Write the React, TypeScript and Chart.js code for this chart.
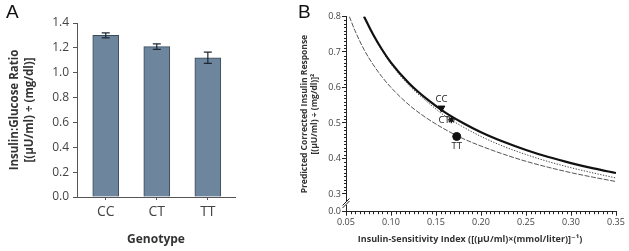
import React, { useEffect, useRef } from 'react';
import { Chart, registerables } from 'chart.js';

Chart.register(...registerables);

// ---------- Panel A data ----------
const genotypes = ['CC', 'CT', 'TT'];
const ratioMeans = [1.30, 1.21, 1.12];
const ratioErrors = [0.02, 0.022, 0.045];
const ratioTicks = [0, 0.2, 0.4, 0.6, 0.8, 1.0, 1.2, 1.4];

// ---------- Panel B data ----------
const ccCurveX = [0.07, 0.08, 0.09, 0.10, 0.12, 0.14, 0.16, 0.18, 0.20, 0.225, 0.25, 0.275, 0.30, 0.325, 0.35];
const ccCurveY = [0.80, 0.750, 0.707, 0.670, 0.612, 0.567, 0.530, 0.500, 0.474, 0.447, 0.424, 0.404, 0.387, 0.372, 0.359];
const ctCurveX = [0.07, 0.08, 0.09, 0.10, 0.12, 0.14, 0.16, 0.18, 0.20, 0.225, 0.25, 0.275, 0.30, 0.325, 0.35];
const ctCurveY = [0.80, 0.748, 0.704, 0.666, 0.606, 0.560, 0.520, 0.489, 0.462, 0.434, 0.411, 0.391, 0.374, 0.359, 0.345];
const ttCurveX = [0.0537, 0.06, 0.07, 0.08, 0.09, 0.10, 0.12, 0.14, 0.16, 0.18, 0.20, 0.225, 0.25, 0.275, 0.30, 0.325, 0.35];
const ttCurveY = [0.80, 0.760, 0.707, 0.665, 0.630, 0.600, 0.551, 0.513, 0.482, 0.456, 0.435, 0.412, 0.392, 0.375, 0.360, 0.347, 0.335];
const markerLabels = ['CC', 'CT', 'TT'];
const markerX = [0.156, 0.167, 0.173];
const markerY = [0.542, 0.509, 0.462];
const siTicks = [0.05, 0.10, 0.15, 0.20, 0.25, 0.30, 0.35];
const responseTicks = [0.25, 0.3, 0.4, 0.5, 0.6, 0.7, 0.8];
const responseTickLabels = ['0.0', '0.3', '0.4', '0.5', '0.6', '0.7', '0.8'];

const FAMILY = '"Open Sans", "DejaVu Sans", sans-serif';

const zip = (xs: number[], ys: number[]) => xs.map((x, i) => ({ x, y: ys[i] }));

function BarPanel() {
  const ref = useRef<HTMLCanvasElement>(null);
  useEffect(() => {
    const axisColor = '#555';
    const errorBars = {
      id: 'errorBars',
      afterDatasetsDraw(chart: any) {
        const { ctx, scales } = chart;
        const x = scales.x;
        const y = scales.y;
        ctx.save();
        ctx.strokeStyle = '#1c2733';
        ctx.lineWidth = 1.2;
        ratioMeans.forEach((m, i) => {
          const px = x.getPixelForValue(i);
          const top = y.getPixelForValue(m + ratioErrors[i]);
          const bot = y.getPixelForValue(m - ratioErrors[i]);
          ctx.beginPath();
          ctx.moveTo(px, top);
          ctx.lineTo(px, bot);
          ctx.moveTo(px - 4, top);
          ctx.lineTo(px + 4, top);
          ctx.moveTo(px - 4, bot);
          ctx.lineTo(px + 4, bot);
          ctx.stroke();
        });
        ctx.restore();
      },
    };
    const chart = new Chart(ref.current as HTMLCanvasElement, {
      type: 'bar',
      data: {
        datasets: [
          {
            data: zip(genotypes.map((_, i) => i), ratioMeans) as any,
            backgroundColor: '#6d869e',
            borderColor: '#3b4b5b',
            borderWidth: 1,
            barThickness: 26,
          },
        ],
      },
      options: {
        responsive: false,
        animation: false,
        layout: { padding: { left: 0, right: 65, top: 23, bottom: 0 } },
        plugins: { legend: { display: false }, tooltip: { enabled: false } },
        scales: {
          x: {
            type: 'linear',
            min: -0.563,
            max: 2.532,
            offset: false,
            afterBuildTicks: (s: any) => {
              s.ticks = genotypes.map((_, i) => ({ value: i }));
            },
            afterFit: (s: any) => {
              s.height = 54;
            },
            ticks: {
              callback: (v: any) => genotypes[Number(v)] ?? '',
              font: { family: FAMILY, size: 14 },
              color: '#444',
              padding: 4,
              autoSkip: false,
              maxRotation: 0,
            },
            grid: { offset: false, drawOnChartArea: false, tickLength: 3, color: axisColor },
            border: { color: axisColor },
            title: {
              display: true,
              text: 'Genotype',
              color: '#333',
              font: { family: FAMILY, size: 12, weight: 'bold' },
              padding: { top: 0, bottom: 4.5 },
            },
          },
          y: {
            min: 0,
            max: 1.4,
            afterBuildTicks: (s: any) => {
              s.ticks = ratioTicks.map((v) => ({ value: v }));
            },
            afterFit: (s: any) => {
              s.width = 77;
            },
            ticks: {
              callback: (v: any) => Number(v).toFixed(1),
              font: { family: FAMILY, size: 12 },
              color: '#444',
              padding: 4,
            },
            grid: { drawOnChartArea: false, tickLength: 4, color: axisColor },
            border: { color: axisColor },
            title: {
              display: true,
              text: ['Insulin:Glucose Ratio', '[(\u03bcU/ml) \u00f7 (mg/dl)]'],
              color: '#333',
              font: { family: FAMILY, size: 11.5, weight: 'bold', lineHeight: '15px' },
              padding: { top: 7.5, bottom: 0 },
            },
          },
        },
      } as any,
      plugins: [errorBars],
    });
    return () => chart.destroy();
  }, []);
  return (
    <canvas
      ref={ref}
      width={300}
      height={251}
      style={{ position: 'absolute', left: 0, top: 0, width: 300, height: 251, display: 'block' }}
    />
  );
}

function CurvePanel() {
  const ref = useRef<HTMLCanvasElement>(null);
  useEffect(() => {
    const axisColor = '#222';
    const extras = {
      id: 'extras',
      afterDraw(chart: any) {
        const { ctx, scales, chartArea } = chart;
        const x = scales.x;
        const y = scales.y;
        ctx.save();
        ctx.strokeStyle = axisColor;
        ctx.lineWidth = 1;
        // minor y ticks
        ctx.beginPath();
        for (let k = 31; k < 80; k++) {
          if (k % 10 === 0) continue;
          const py = Math.round(y.getPixelForValue(k / 100)) + 0.5;
          ctx.moveTo(chartArea.left - 2, py);
          ctx.lineTo(chartArea.left, py);
        }
        // minor x ticks
        for (let k = 11; k < 70; k++) {
          if (k % 10 === 0) continue;
          const px = Math.round(x.getPixelForValue(k * 0.005)) + 0.5;
          ctx.moveTo(px, chartArea.bottom);
          ctx.lineTo(px, chartArea.bottom + 2.5);
        }
        ctx.stroke();
        // axis break
        const mid = y.getPixelForValue(0.2745);
        ctx.fillStyle = '#fff';
        ctx.fillRect(chartArea.left - 1.5, mid - 2, 3, 4);
        ctx.beginPath();
        ctx.moveTo(chartArea.left - 3.5, mid + 2.5);
        ctx.lineTo(chartArea.left + 3.5, mid - 4.5);
        ctx.moveTo(chartArea.left - 3.5, mid + 5);
        ctx.lineTo(chartArea.left + 3.5, mid - 2);
        ctx.stroke();
        // marker labels
        ctx.fillStyle = '#222';
        ctx.font = `9.5px ${FAMILY}`;
        ctx.textBaseline = 'middle';
        const p0x = x.getPixelForValue(markerX[0]);
        const p0y = y.getPixelForValue(markerY[0]);
        ctx.textAlign = 'center';
        ctx.fillText(markerLabels[0], p0x, p0y - 8.5);
        const p1x = x.getPixelForValue(markerX[1]);
        const p1y = y.getPixelForValue(markerY[1]);
        ctx.textAlign = 'right';
        ctx.fillText(markerLabels[1], p1x - 1.5, p1y + 0.5);
        const p2x = x.getPixelForValue(markerX[2]);
        const p2y = y.getPixelForValue(markerY[2]);
        ctx.textAlign = 'center';
        ctx.fillText(markerLabels[2], p2x, p2y + 10);
        // x-axis title
        ctx.fillStyle = '#333';
        ctx.font = `bold 9px ${FAMILY}`;
        ctx.textAlign = 'center';
        ctx.fillText('Insulin-Sensitivity Index ([(\u03bcU/ml)\u00d7(mmol/liter)]\u207b\u00b9)', 170, 239);
        ctx.restore();
      },
    };
    const chart = new Chart(ref.current as HTMLCanvasElement, {
      type: 'scatter',
      data: {
        datasets: [
          {
            data: [{ x: markerX[0], y: markerY[0] }],
            pointStyle: 'triangle',
            pointRotation: 180,
            pointRadius: 4,
            pointBackgroundColor: '#111',
            pointBorderColor: '#111',
            order: 0,
          },
          {
            data: [{ x: markerX[1], y: markerY[1] }],
            pointStyle: 'star',
            pointRadius: 3.5,
            pointBorderWidth: 1.2,
            pointBackgroundColor: '#111',
            pointBorderColor: '#111',
            order: 0,
          },
          {
            data: [{ x: markerX[2], y: markerY[2] }],
            pointStyle: 'circle',
            pointRadius: 4,
            pointBackgroundColor: '#111',
            pointBorderColor: '#111',
            order: 0,
          },
          {
            data: zip(ccCurveX, ccCurveY),
            showLine: true,
            borderColor: '#111',
            borderWidth: 2.2,
            pointRadius: 0,
            cubicInterpolationMode: 'monotone',
            order: 1,
          },
          {
            data: zip(ctCurveX, ctCurveY),
            showLine: true,
            borderColor: '#444',
            borderWidth: 1,
            borderDash: [1.3, 1.5],
            pointRadius: 0,
            cubicInterpolationMode: 'monotone',
            order: 2,
          },
          {
            data: zip(ttCurveX, ttCurveY),
            showLine: true,
            borderColor: '#555',
            borderWidth: 1,
            borderDash: [5, 1.5],
            pointRadius: 0,
            cubicInterpolationMode: 'monotone',
            order: 3,
          },
        ],
      } as any,
      options: {
        responsive: false,
        animation: false,
        layout: { padding: { left: 0, right: 13, top: 16.5, bottom: 0 } },
        plugins: { legend: { display: false }, tooltip: { enabled: false } },
        scales: {
          x: {
            type: 'linear',
            min: 0.05,
            max: 0.35,
            afterBuildTicks: (s: any) => {
              s.ticks = siTicks.map((v) => ({ value: v }));
            },
            afterFit: (s: any) => {
              s.height = 39.3;
            },
            ticks: {
              callback: (v: any) => Number(v).toFixed(2),
              font: { family: FAMILY, size: 9 },
              color: '#444',
              padding: 1.5,
              autoSkip: false,
              maxRotation: 0,
            },
            grid: { drawOnChartArea: false, tickLength: 4, color: axisColor },
            border: { color: axisColor },
          },
          y: {
            type: 'linear',
            min: 0.25,
            max: 0.8,
            afterBuildTicks: (s: any) => {
              s.ticks = responseTicks.map((v) => ({ value: v }));
            },
            afterFit: (s: any) => {
              s.width = 46;
            },
            ticks: {
              callback: (_v: any, i: number) => responseTickLabels[i],
              font: { family: FAMILY, size: 9 },
              color: '#444',
              padding: 1,
            },
            grid: { drawOnChartArea: false, tickLength: 4, color: axisColor },
            border: { color: axisColor },
            title: {
              display: true,
              text: ['Predicted Corrected Insulin Response', '[(\u03bcU/ml) \u00f7 (mg/dl)]\u00b2'],
              color: '#333',
              font: { family: FAMILY, size: 8.5, weight: 'bold', lineHeight: '9.5px' },
              padding: { top: 0, bottom: 0 },
            },
          },
        },
      } as any,
      plugins: [extras],
    });
    return () => chart.destroy();
  }, []);
  return (
    <canvas
      ref={ref}
      width={329}
      height={251}
      style={{ position: 'absolute', left: 300, top: 0, width: 329, height: 251, display: 'block' }}
    />
  );
}

export default function App() {
  const letter: React.CSSProperties = {
    position: 'absolute',
    top: 2,
    font: '19px "Liberation Sans", Arial, sans-serif',
    lineHeight: '19px',
    color: '#111',
  };
  return (
    <div
      style={{
        position: 'absolute',
        left: 0,
        top: 0,
        width: 629,
        height: 251,
        background: '#fff',
        overflow: 'hidden',
      }}
    >
      <BarPanel />
      <CurvePanel />
      <div style={{ ...letter, left: 6 }}>A</div>
      <div style={{ ...letter, left: 298 }}>B</div>
    </div>
  );
}
